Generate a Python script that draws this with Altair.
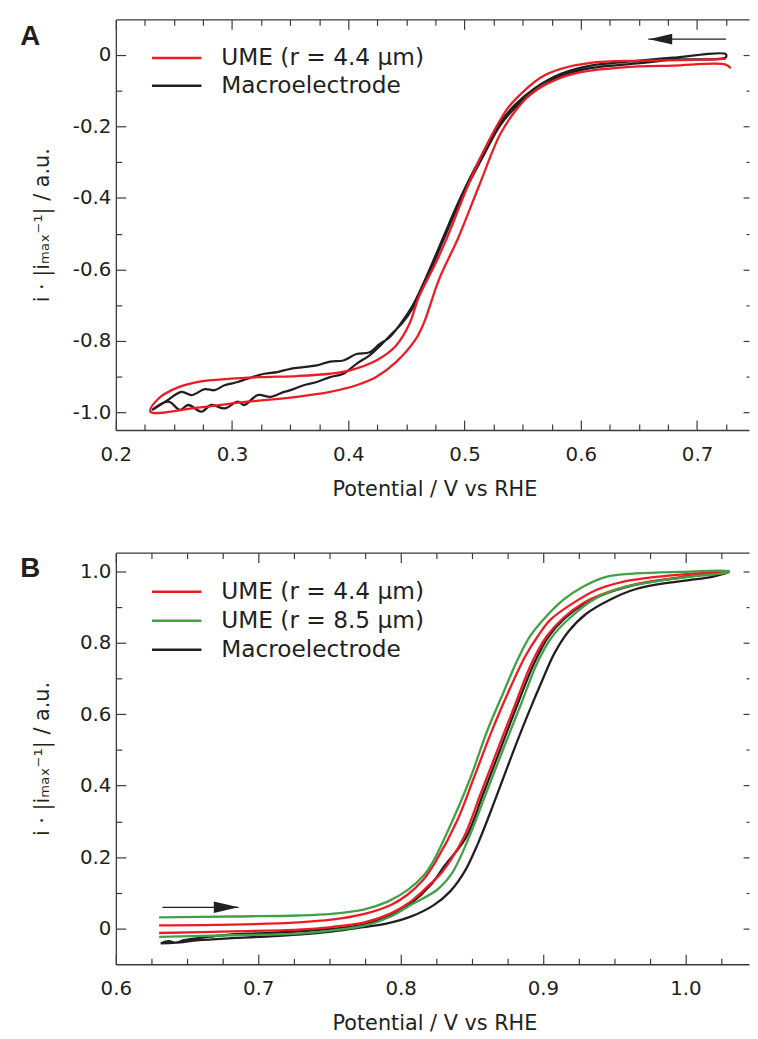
import altair as alt
import pandas as pd

RED = "#ed1c24"
GREEN = "#43a047"
BLACK = "#231f20"
INK = "#231f20"
FRAME = "#3a3a3a"

# ---------------- panel A data (potential / V, normalised current) ----------------
a_series = ["UME (r = 4.4 µm)", "Macroelectrode"]
a_colors = [RED, BLACK]

a_ume_v = [0.7289, 0.7247, 0.6793, 0.6368, 0.5999, 0.5772, 0.5574, 0.5431, 0.5304, 0.5119,
           0.4949, 0.4779, 0.4651, 0.4580, 0.4410, 0.4240, 0.4070, 0.3843, 0.3559, 0.3134,
           0.2708, 0.2297, 0.2368, 0.2510, 0.2708, 0.2991, 0.3276, 0.3559, 0.3843, 0.4013,
           0.4240, 0.4410, 0.4523, 0.4609, 0.4751, 0.4864, 0.5034, 0.5191, 0.5372, 0.5517,
           0.5659, 0.5829, 0.6084, 0.6510, 0.7077, 0.7247]
a_ume_i = [-0.0378, -0.0276, -0.0304, -0.0351, -0.0489, -0.0718, -0.1086, -0.1594, -0.2238, -0.3710,
           -0.5091, -0.6290, -0.7486, -0.7948, -0.8591, -0.9006, -0.9235, -0.9420, -0.9558, -0.9696,
           -0.9862, -0.9972, -0.9605, -0.9329, -0.9144, -0.9052, -0.9006, -0.8978, -0.8914, -0.8820,
           -0.8544, -0.8130, -0.7541, -0.6749, -0.5829, -0.5000, -0.3619, -0.2514, -0.1492, -0.0994,
           -0.0627, -0.0395, -0.0229, -0.0166, -0.0138, -0.0119]

a_macro_v = [0.2311, 0.2425, 0.2566, 0.2651, 0.2765, 0.2850, 0.2935, 0.3049, 0.3134, 0.3276,
             0.3389, 0.3502, 0.3616, 0.3729, 0.3843, 0.3957, 0.4070, 0.4183, 0.4268, 0.4353,
             0.4444, 0.4552, 0.4666, 0.4830, 0.4921, 0.5020, 0.5176, 0.5304, 0.5431, 0.5602,
             0.5829, 0.6084, 0.6510, 0.6793, 0.7247,
             0.7247, 0.6793, 0.6510, 0.6084, 0.5829, 0.5602, 0.5431, 0.5304, 0.5176, 0.5020,
             0.4921, 0.4830, 0.4666, 0.4552, 0.4467, 0.4368, 0.4268, 0.4183, 0.4070, 0.3957,
             0.3843, 0.3729, 0.3616, 0.3502, 0.3446, 0.3332, 0.3219, 0.3106, 0.3049, 0.2935,
             0.2821, 0.2736, 0.2623, 0.2552, 0.2453, 0.2311]
a_macro_i = [-0.9925, -0.9696, -0.9420, -0.9511, -0.9345, -0.9373, -0.9235, -0.9144, -0.9052, -0.8914,
             -0.8867, -0.8776, -0.8729, -0.8682, -0.8572, -0.8544, -0.8362, -0.8315, -0.8086, -0.7901,
             -0.7541, -0.7017, -0.6243, -0.5000, -0.4309, -0.3619, -0.2652, -0.1906, -0.1409, -0.0939,
             -0.0533, -0.0304, -0.0166, -0.0083, 0.0019,
             -0.0075, -0.0138, -0.0235, -0.0373, -0.0594, -0.1022, -0.1492, -0.1989, -0.2735, -0.3702,
             -0.4392, -0.5083, -0.6326, -0.7086, -0.7486, -0.7818, -0.8149, -0.8398, -0.8638, -0.8914,
             -0.9006, -0.9144, -0.9235, -0.9373, -0.9420, -0.9558, -0.9511, -0.9787, -0.9696, -0.9881,
             -0.9787, -0.9972, -0.9787, -0.9925, -0.9696, -0.9925]

a_arrow_x = [0.7249, 0.6580]
a_arrow_y = [0.0434]
a_head_x = [0.6687]

# ---------------- panel B data ----------------
b_series = ["UME (r = 4.4 µm)", "UME (r = 8.5 µm)", "Macroelectrode"]
b_colors = [RED, GREEN, BLACK]

b_ume44_v = [0.6304, 0.6815, 0.7281, 0.7513, 0.7746, 0.7932, 0.8048, 0.8153, 0.8244, 0.8397,
             0.8514, 0.8629, 0.8746, 0.8872, 0.8962, 0.9053, 0.9211, 0.9374, 0.9560, 0.9793,
             1.0072, 1.0304,
             1.0304, 0.9955, 0.9676, 0.9467, 0.9281, 0.9142, 0.9025, 0.8920, 0.8793, 0.8676,
             0.8560, 0.8444, 0.8292, 0.8202, 0.8071, 0.7932, 0.7746, 0.7513, 0.7281, 0.6815, 0.6304]
b_ume44_i = [0.0091, 0.0111, 0.0174, 0.0249, 0.0415, 0.0664, 0.0949, 0.1337, 0.1863, 0.3017,
             0.4215, 0.5414, 0.6521, 0.7592, 0.8173, 0.8644, 0.9106, 0.9474, 0.9704, 0.9842,
             0.9936, 1.0000,
             0.9981, 0.9826, 0.9660, 0.9427, 0.9106, 0.8691, 0.8173, 0.7426, 0.6153, 0.4954,
             0.3753, 0.2555, 0.1586, 0.1226, 0.0756, 0.0432, 0.0174, 0.0044, -0.0028, -0.0075, -0.0122]

b_ume85_v = [0.6304, 0.6815, 0.7281, 0.7513, 0.7746, 0.7909, 0.8048, 0.8165, 0.8230, 0.8374,
             0.8490, 0.8606, 0.8723, 0.8823, 0.8909, 0.9002, 0.9142, 0.9281, 0.9444, 0.9653,
             0.9955, 1.0304,
             1.0304, 1.0025, 0.9770, 0.9537, 0.9351, 0.9188, 0.9060, 0.8962, 0.8851, 0.8723,
             0.8606, 0.8490, 0.8362, 0.8257, 0.8071, 0.7932, 0.7746, 0.7513, 0.7281, 0.6815, 0.6304]
b_ume85_i = [0.0313, 0.0340, 0.0368, 0.0415, 0.0542, 0.0756, 0.1079, 0.1503, 0.1890, 0.3108,
             0.4215, 0.5508, 0.6615, 0.7537, 0.8182, 0.8644, 0.9197, 0.9565, 0.9842, 0.9936,
             0.9981, 1.0000,
             0.9981, 0.9842, 0.9704, 0.9521, 0.9197, 0.8691, 0.8146, 0.7454, 0.6338, 0.5046,
             0.3847, 0.2646, 0.1558, 0.1088, 0.0664, 0.0340, 0.0083, -0.0055, -0.0138, -0.0185, -0.0232]

b_macro_v = [0.6315, 0.6373, 0.6420, 0.6478, 0.6583, 0.6687, 0.6815, 0.7001, 0.7281, 0.7513,
             0.7746, 0.7932, 0.8071, 0.8211, 0.8313, 0.8460, 0.8578, 0.8694, 0.8809, 0.8938,
             0.9039, 0.9156, 0.9295, 0.9479, 0.9688, 0.9967, 1.0304,
             1.0188, 1.0025, 0.9839, 0.9653, 0.9467, 0.9304, 0.9179, 0.9080, 0.8990, 0.8900,
             0.8810, 0.8720, 0.8630, 0.8540, 0.8450, 0.8350, 0.8230, 0.8080, 0.7900, 0.7700,
             0.7513, 0.7281, 0.7001, 0.6815, 0.6583, 0.6420, 0.6315]
b_macro_i = [-0.0415, -0.0352, -0.0393, -0.0324, -0.0260, -0.0213, -0.0158, -0.0130, -0.0075, -0.0006,
             0.0119, 0.0368, 0.0700, 0.1218, 0.1780, 0.2555, 0.3753, 0.4954, 0.6153, 0.7426,
             0.8173, 0.8691, 0.9106, 0.9427, 0.9654, 0.9820, 0.9981,
             0.9842, 0.9751, 0.9654, 0.9502, 0.9197, 0.8810, 0.8312, 0.7700, 0.6900, 0.6050,
             0.5150, 0.4200, 0.3250, 0.2350, 0.1600, 0.1050, 0.0650, 0.0350, 0.0140, 0.0020,
             -0.0080, -0.0170, -0.0230, -0.0268, -0.0324, -0.0393, -0.0415]

b_arrow_x = [0.6327, 0.6862]
b_arrow_y = [0.0598]
b_head_x = [0.6775]

# ---------------- axes: tick values and domains ----------------
a_x_ticks = [0.2, 0.225, 0.25, 0.275, 0.3, 0.325, 0.35, 0.375, 0.4, 0.425, 0.45, 0.475,
             0.5, 0.525, 0.55, 0.575, 0.6, 0.625, 0.65, 0.675, 0.7, 0.725]
a_y_ticks = [0.0, -0.1, -0.2, -0.3, -0.4, -0.5, -0.6, -0.7, -0.8, -0.9, -1.0]
b_x_ticks = [0.6, 0.625, 0.65, 0.675, 0.7, 0.725, 0.75, 0.775, 0.8, 0.825, 0.85, 0.875,
             0.9, 0.925, 0.95, 0.975, 1.0, 1.025]
b_y_ticks = [0.0, 0.1, 0.2, 0.3, 0.4, 0.5, 0.6, 0.7, 0.8, 0.9, 1.0]
a_x_domain = [0.2, 0.7447]
a_y_domain = [-1.0486, 0.0986]
b_x_domain = [0.6, 1.0447]
b_y_domain = [-0.0996, 1.0518]

X_TITLE = "Potential / V vs RHE"
Y_TITLE = "i · |iₘₐₓ⁻¹| / a.u."

W = 640


def major(mult):
    return f"abs(datum.value*{mult} - round(datum.value*{mult})) < 0.001"


def tick_expr(mult, big, small):
    return {"expr": f"{major(mult)} ? {big} : {small}"}


X_LABELS = f"{major(10)} ? format(datum.value, '.1f') : ''"
Y_LABELS = (f"{major(5)} ? (abs(datum.value) < 0.001 ? '0' : "
            "(datum.value < 0 ? '-' : '') + format(abs(datum.value), '.1f')) : ''")


def series_df(v, i, name):
    return pd.DataFrame({"v": v, "i": i, "k": list(range(len(v))), "series": name})


def panel(label, label_dy, height, xs_dom, ys_dom, x_ticks, y_ticks, curves, names, colors,
          arrow_x, arrow_y, head_x, head_shape, head_size, leg_y, leg_row, title_y):
    xs = alt.Scale(domain=xs_dom, nice=False, zero=False)
    ys = alt.Scale(domain=ys_dom, nice=False, zero=False)
    cscale = alt.Scale(domain=names, range=colors)
    legend = alt.Legend(orient="none", legendX=36.5, legendY=leg_y, title=None,
                        symbolType="M-2,0H2", symbolSize=625, symbolStrokeWidth=2.5,
                        symbolOffset=11, labelOffset=31, labelFont="DejaVu Sans",
                        labelFontSize=23.5, labelColor=INK, labelLimit=500,
                        rowPadding=leg_row, padding=0)
    ax_bottom = alt.Axis(orient="bottom", values=x_ticks, title=X_TITLE, labelExpr=X_LABELS,
                         tickSize=tick_expr(10, -10, -6), labelPadding=25, labelFlush=False,
                         labelOverlap=False, labelAlign="center", labelBaseline="top",
                         titleX=322, titleY=title_y, titleAlign="center",
                         titleBaseline="alphabetic")
    ax_left = alt.Axis(orient="left", values=y_ticks, title=Y_TITLE, labelExpr=Y_LABELS,
                       tickSize=tick_expr(5, -10, -6), labelPadding=15, labelFlush=False,
                       labelOverlap=False, titleX=-68, titleY=height / 2, titleAngle=270,
                       titleAlign="center", titleBaseline="alphabetic")
    ax_top = alt.Axis(orient="top", values=x_ticks, title=None, labels=False,
                      tickSize=tick_expr(10, -10, -6))
    ax_right = alt.Axis(orient="right", values=y_ticks, title=None, labels=False, domain=False,
                        tickSize=tick_expr(5, -6, -3))

    layers = []
    draw_order = sorted(range(len(curves)), key=lambda n: 0 if colors[n] == BLACK else 1)
    first = True
    for n in draw_order:
        v, i = curves[n]
        layers.append(
            alt.Chart(series_df(v, i, names[n])).mark_line(
                strokeWidth=2.3, interpolate="catmull-rom", strokeJoin="round"
            ).encode(
                x=alt.X("v:Q", scale=xs, axis=ax_bottom if first else None),
                y=alt.Y("i:Q", scale=ys, axis=ax_left if first else None),
                color=alt.Color("series:N", scale=cscale, legend=legend),
                order=alt.Order("k:Q"),
            )
        )
        first = False

    arrow_df = pd.DataFrame({"x0": [arrow_x[0]], "x1": [arrow_x[1]], "y": arrow_y})
    head_df = pd.DataFrame({"x": head_x, "y": arrow_y})
    layers.append(
        alt.Chart(arrow_df).mark_rule(strokeWidth=1.3, color=BLACK).encode(
            x=alt.X("x0:Q", scale=xs, axis=ax_top),
            x2="x1:Q",
            y=alt.Y("y:Q", scale=ys, axis=ax_right),
        )
    )
    layers.append(
        alt.Chart(head_df).mark_point(shape=head_shape, size=head_size, filled=True,
                                      color=BLACK, opacity=1, strokeWidth=0).encode(
            x=alt.X("x:Q", scale=xs, axis=None),
            y=alt.Y("y:Q", scale=ys, axis=None),
        )
    )
    # panel letter
    layers.append(
        alt.Chart(pd.DataFrame({"panel": [label]})).mark_text(
            align="left", baseline="alphabetic", font="Liberation Sans", fontSize=28,
            fontWeight="bold", color=INK
        ).encode(text="panel:N", x=alt.value(-96.5), y=alt.value(label_dy))
    )
    return alt.layer(*layers).resolve_axis(x="independent", y="independent").properties(
        width=W, height=height
    )


panel_a = panel("A", 26, 415, a_x_domain, a_y_domain, a_x_ticks, a_y_ticks,
                [(a_ume_v, a_ume_i), (a_macro_v, a_macro_i)], a_series, a_colors,
                a_arrow_x, a_arrow_y, a_head_x, "M-1,0L1,-0.47L1,0.47Z", 545, 25, 2, 66)
panel_b = panel("B", 24.5, 416, b_x_domain, b_y_domain, b_x_ticks, b_y_ticks,
                [(b_ume44_v, b_ume44_i), (b_ume85_v, b_ume85_i), (b_macro_v, b_macro_i)],
                b_series, b_colors,
                b_arrow_x, b_arrow_y, b_head_x, "M1,0L-1,-0.47L-1,0.47Z", 625, 25.4, 3.3, 66)

chart = alt.vconcat(panel_a, panel_b, spacing=124, bounds="flush").resolve_scale(
    color="independent"
).configure_view(strokeWidth=0).configure_axis(
    labelFont="DejaVu Sans", labelFontSize=20, labelColor=INK,
    titleFont="DejaVu Sans", titleFontSize=21, titleFontWeight="normal", titleColor=INK,
    domainColor=FRAME, domainWidth=1.3, tickColor=FRAME, tickWidth=1.2, grid=False,
).properties(padding={"left": 12, "top": 5, "right": 0, "bottom": 0})

chart.save("out.html", embed_options={"renderer": "svg", "actions": False})
